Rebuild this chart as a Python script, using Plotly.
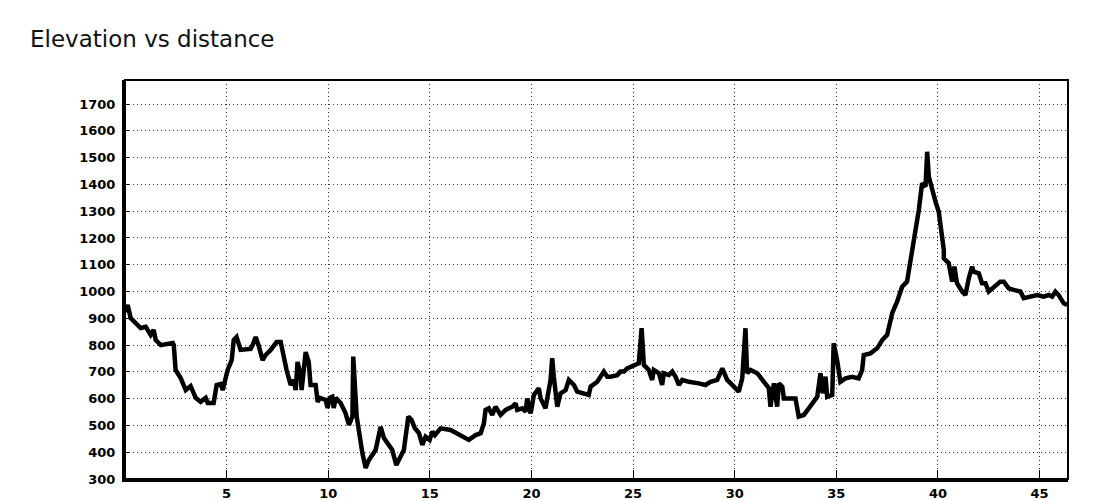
import plotly.graph_objects as go

# Distance along the track (km) and elevation (m)
distance_km = [
    0.0, 0.13, 0.28, 0.53, 0.77, 1.02, 1.26, 1.41, 1.51, 1.66, 1.76, 2.35, 2.40, 2.49, 2.74,
    2.99, 3.23, 3.48, 3.72, 3.97, 4.07, 4.36, 4.51, 4.71, 4.81, 5.05, 5.25, 5.35, 5.49, 5.69,
    6.18, 6.28, 6.43, 6.58, 6.77, 6.92, 7.17, 7.46, 7.66, 7.95, 8.15, 8.30, 8.40, 8.49, 8.64,
    8.69, 8.89, 9.04, 9.13, 9.38, 9.48, 9.58, 9.87, 9.97, 10.07,
    10.20, 10.27, 10.37, 10.61, 10.85, 11.02, 11.19, 11.23, 11.40, 11.51, 11.68, 11.84, 12.00,
    12.33, 12.58, 12.74, 12.99, 13.15, 13.35, 13.56, 13.72, 13.94, 14.10, 14.26, 14.46, 14.63,
    14.79, 14.99, 15.12, 15.25, 15.53, 16.02, 16.51, 16.92, 17.25, 17.50, 17.66, 17.74, 17.90,
    18.07, 18.23, 18.48, 18.73, 19.06, 19.22, 19.30, 19.55, 19.71, 19.79, 19.96, 20.12, 20.36,
    20.45, 20.69, 20.94, 21.02, 21.10, 21.27, 21.43, 21.68, 21.84, 22.09, 22.25, 22.50, 22.82,
    22.91, 23.24, 23.56, 23.73, 23.89, 24.22, 24.38, 24.55, 24.71, 25.12, 25.28, 25.42, 25.48,
    25.53, 25.77, 25.94, 26.02, 26.27, 26.43, 26.51, 26.76, 26.93, 27.09, 27.25, 27.42, 27.74,
    28.23, 28.56, 28.81, 29.14, 29.39, 29.63, 29.96, 30.20, 30.37, 30.53, 30.61,
    30.78, 31.11, 31.43, 31.68, 31.76, 31.93, 32.09, 32.17, 32.34, 32.42, 32.99, 33.15, 33.40,
    33.65, 33.89, 34.06, 34.22, 34.33, 34.47, 34.55, 34.80, 34.87, 35.04, 35.20, 35.45, 35.78,
    36.10, 36.27, 36.35, 36.68, 37.01, 37.26, 37.50, 37.75, 37.99, 38.24, 38.48, 38.65, 38.89,
    39.06, 39.22, 39.39, 39.47, 39.55, 39.88, 40.04, 40.29, 40.29,
    40.53, 40.70, 40.81, 40.94, 41.19, 41.35, 41.52, 41.68, 41.76, 42.01, 42.17, 42.34, 42.50,
    42.74, 43.07, 43.24, 43.48, 43.73, 44.06, 44.22, 44.55, 44.88, 45.20, 45.45, 45.62, 45.78,
    45.94, 46.19, 46.36,
]
elevation_m = [
    924, 950, 901, 883, 864, 868, 838, 857, 819, 808, 800, 808, 800, 707, 677,
    632, 647, 603, 588, 603, 584, 584, 651, 655, 632, 707, 744, 819, 830, 782,
    786, 800, 830, 797, 744, 763, 782, 812, 812, 707, 651, 670, 632, 737, 688,
    632, 774, 737, 651, 651, 588, 603, 595, 565, 603,
    607, 565, 603, 584, 546, 502, 533, 757, 533, 472, 397, 341, 371,
    408, 495, 453, 421, 408, 352, 383, 408, 533, 520, 490, 472, 427,
    458, 446, 477, 464, 489, 483, 464, 446, 464, 471, 508, 558, 564,
    539, 570, 539, 558, 570, 583, 558, 564, 551, 601, 545, 614, 639,
    601, 564, 670, 751, 682, 570, 620, 632, 670, 651, 626, 620, 614,
    645, 663, 701, 682, 682, 688, 701, 701, 713, 726, 732, 863, 757,
    726, 707, 670, 707, 695, 651, 695, 688, 701, 682, 651, 670, 663,
    657, 651, 663, 670, 713, 670, 645, 626, 676, 863, 695,
    707, 695, 663, 639, 570, 657, 570, 657, 645, 601, 601, 533, 539,
    564, 589, 607, 695, 620, 682, 607, 614, 807, 744, 663, 676, 682,
    676, 707, 763, 769, 788, 819, 838, 919, 962, 1018, 1037, 1118, 1211,
    1305, 1404, 1392, 1522, 1429, 1336, 1298, 1155, 1124,
    1106, 1037, 1093, 1031, 1000, 987, 1050, 1093, 1074, 1068, 1031, 1031, 1000,
    1018, 1037, 1037, 1012, 1006, 1000, 975, 981, 987, 981, 987, 981, 1000,
    987, 956, 950,
]

x_ticks = [5, 10, 15, 20, 25, 30, 35, 40, 45]
y_ticks = [300, 400, 500, 600, 700, 800, 900, 1000, 1100, 1200, 1300, 1400, 1500, 1600, 1700]

title_text = "Elevation vs distance"

# the html page body has an 8px margin, so the figure is offset by 8px
OFF = 8

fig = go.Figure()
fig.add_trace(go.Scatter(
    x=distance_km, y=elevation_m, mode="lines",
    line=dict(color="#000000", width=4.5),
    hoverinfo="x+y", showlegend=False,
))

tick_font = dict(family="DejaVu Sans", size=13, color="#000000", weight="bold")

fig.update_layout(
    width=1100, height=500,
    margin=dict(l=125 - OFF, r=32 + OFF, t=80 - OFF, b=21 + OFF),
    paper_bgcolor="#ffffff", plot_bgcolor="#ffffff",
    title=dict(text=title_text, x=(30 - OFF) / 1100, xanchor="left", xref="container",
               y=1 - (39 - OFF) / 500, yanchor="middle", yref="container",
               font=dict(family="DejaVu Sans", size=23, color="#111111")),
    xaxis=dict(
        range=[0, 46.4], tickvals=x_ticks, ticktext=[str(v) for v in x_ticks],
        showgrid=True, gridcolor="#333333", griddash="1px,3px", gridwidth=1,
        zeroline=False, showline=True, linecolor="#000000", linewidth=3,
        ticks="inside", ticklen=9, tickwidth=1, tickcolor="#000000",
        tickfont=tick_font, automargin=False,
    ),
    yaxis=dict(
        range=[300, 1790], tickvals=y_ticks, ticktext=[str(v) for v in y_ticks],
        showgrid=True, gridcolor="#333333", griddash="1px,3px", gridwidth=1,
        zeroline=False, showline=True, linecolor="#000000", linewidth=3,
        ticks="inside", ticklen=4, tickwidth=1, tickcolor="#000000",
        tickfont=tick_font, ticklabelstandoff=4, automargin=False,
    ),
    shapes=[dict(type="rect", xref="x domain", yref="y domain", x0=0, x1=1, y0=0, y1=1,
                 line=dict(color="#000000", width=2), layer="above")],
)

fig.write_html("out.html")
